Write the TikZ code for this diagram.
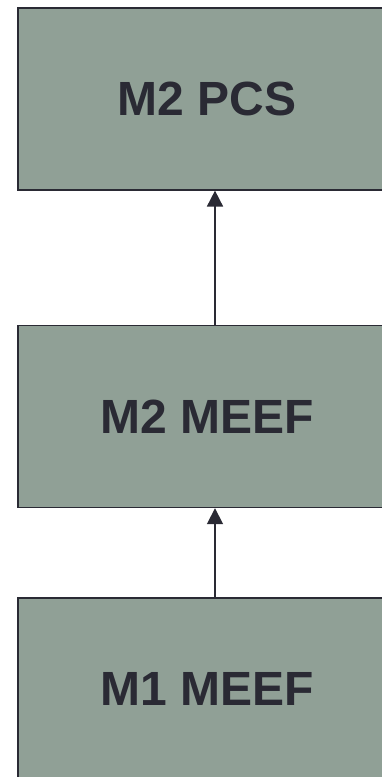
\documentclass[tikz,border=0pt]{standalone}
\usepackage{fontspec}
\setmainfont{Liberation Sans}
\usepackage{xcolor}
\usetikzlibrary{arrows.meta, positioning}
\definecolor{boxgreen}{HTML}{90A096}
\definecolor{darkline}{HTML}{2A2A34}
\tikzstyle{level} = [rectangle, minimum width=378pt, minimum height=182pt, inner sep=0pt, text centered, draw=darkline, line width=1.6pt, fill=boxgreen, text=darkline, font=\fontsize{48}{56}\selectfont\bfseries]
\tikzstyle{arrow} = [darkline, line width=1.8pt, -{Triangle[width=16pt,length=16pt]}]

\begin{document}
\begin{tikzpicture}[x=1pt, y=1pt]
	\useasboundingbox (0,0) rectangle (382,-777);
	\clip (0,0) rectangle (382,-777);
	
	\node (m1) [level] at (207,-689) {M1 MEEF};
	\node (m2) [level, above=89pt of m1] {M2 MEEF};
	\node (m3) [level, above=134pt of m2] {M2 PCS};
	
	\draw [arrow] ([xshift=8pt]m1.north) -- ([xshift=8pt]m2.south);
	\draw [arrow] ([xshift=8pt]m2.north) -- ([xshift=8pt]m3.south);
	
\end{tikzpicture}
\end{document}
